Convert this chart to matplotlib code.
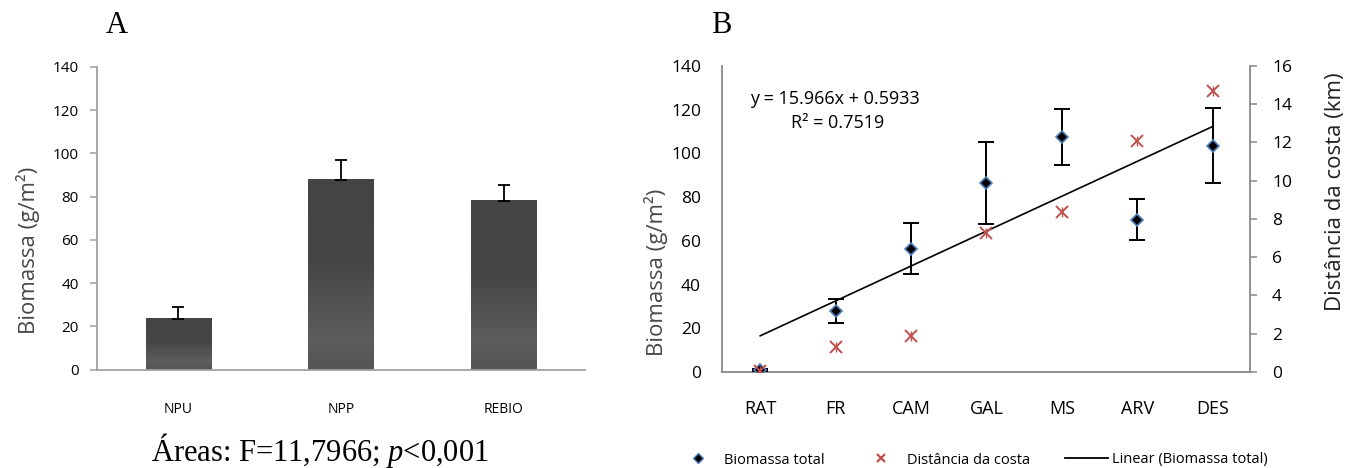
import numpy as np
import matplotlib
matplotlib.use('Agg')
import matplotlib.pyplot as plt
from matplotlib.lines import Line2D
from matplotlib.colors import LinearSegmentedColormap

plt.rcParams['font.family'] = ['Open Sans', 'DejaVu Sans']
plt.rcParams['mathtext.fontset'] = 'custom'
plt.rcParams['mathtext.it'] = 'Liberation Serif:italic'
plt.rcParams['mathtext.rm'] = 'Liberation Serif'

# ---- dados do painel A ----
areas = ['NPU', 'NPP', 'REBIO']
biomassa_area = [23.5, 87.8, 78.2]
erro_area = [5.3, 9.3, 7.4]

# ---- dados do painel B ----
locais = ['RAT', 'FR', 'CAM', 'GAL', 'MS', 'ARV', 'DES']
biomassa_total = [1.0, 28.0, 56.5, 86.5, 107.5, 69.6, 103.5]
erro_total = [0.6, 5.6, 11.6, 18.7, 13.0, 9.4, 17.1]
distancia_km = [0.05, 1.3, 1.9, 7.26, 8.36, 12.1, 14.7]
inclinacao, intercepto = 15.966, 0.5933

W, H = 1347, 468
fig = plt.figure(figsize=(W / 100, H / 100), dpi=100)

cinza_eixo = '#a0a0a0'

# ================= painel A =================
axA = fig.add_axes([96.7 / W, 1 - 369.5 / H, (585 - 96.7) / W, (369.5 - 67) / H])
xa = np.arange(len(areas))
barras = axA.bar(xa, biomassa_area, width=0.4, color='#4a4a4a', zorder=2)

# degradê das barras (estilo Excel)
cmap = LinearSegmentedColormap.from_list('barra', [(0, '#555555'), (0.15, '#5d5d5d'),
                                                   (0.35, '#525252'), (0.55, '#464646'),
                                                   (1, '#444444')])
grad = np.linspace(0, 1, 256).reshape(-1, 1)
for b in barras:
    axA.imshow(grad, extent=[b.get_x(), b.get_x() + b.get_width(), 0, b.get_height()],
               cmap=cmap, aspect='auto', origin='lower', zorder=2.1)

axA.errorbar(xa, biomassa_area, yerr=[np.zeros(len(areas)), erro_area], fmt='none',
             ecolor='black', elinewidth=1.3, capsize=4, capthick=1.3, zorder=3)

axA.set_xlim(-0.5, len(areas) - 0.5)
axA.set_ylim(0, 140)
axA.set_yticks(range(0, 141, 20))
axA.set_xticks(xa)
axA.set_xticklabels(areas, fontsize=10)
axA.tick_params(axis='x', length=0, pad=23.5)
axA.tick_params(axis='y', length=5, width=1.1, color=cinza_eixo, pad=8, labelsize=11)
for s in ['top', 'right']:
    axA.spines[s].set_visible(False)
for s in ['left', 'bottom']:
    axA.spines[s].set_color(cinza_eixo)
    axA.spines[s].set_linewidth(1.3)

fig.text(28 / W, 1 - 250 / H, 'Biomassa (g/m²)', rotation=90, ha='center', va='center',
         fontsize=16, color='#484848')
fig.text(116.5 / W, 1 - 33 / H, 'A', family='Liberation Serif', fontsize=22,
         ha='center', va='baseline')
fig.text(150.7 / W, 1 - 461 / H, 'Áreas: F=11,7966; $p$<0,001', family='Liberation Serif',
         fontsize=22, ha='left', va='baseline')

# ================= painel B =================
axB = fig.add_axes([722.5 / W, 1 - 372 / H, (1250.5 - 722.5) / W, (372 - 66) / H])
xb = np.arange(1, len(locais) + 1)

axB.errorbar(xb, biomassa_total, yerr=erro_total, fmt='none', ecolor='black',
             elinewidth=1.4, capsize=6, capthick=1.4, zorder=3)
axB.plot(xb, biomassa_total, linestyle='none', marker='D', markersize=6.3,
         markerfacecolor='black', markeredgecolor='#4f81bd', markeredgewidth=1.2, zorder=4)
axB.plot(xb, inclinacao * xb + intercepto, color='black', linewidth=1.2, zorder=2)

axB.text(749.6 / W, 1 - 98.5 / H, 'y = 15.966x + 0.5933', transform=fig.transFigure,
         fontsize=13, ha='left', va='center')
axB.text(838 / W, 1 - 123.5 / H, 'R² = 0.7519', transform=fig.transFigure,
         fontsize=13, ha='center', va='center')

axB.set_xlim(0.5, len(locais) + 0.5)
axB.set_ylim(0, 140)
axB.set_yticks(range(0, 141, 20))
axB.set_xticks(xb)
axB.set_xticklabels(locais, fontsize=13)
axB.tick_params(axis='x', length=0, pad=20)
axB.tick_params(axis='y', length=0, pad=15.5, labelsize=12.5)
for s in ['top', 'right']:
    axB.spines[s].set_visible(False)
for s in ['left', 'bottom']:
    axB.spines[s].set_color('#888888')
    axB.spines[s].set_linewidth(1.3)

axB2 = axB.twinx()
axB2.plot(xb, distancia_km, linestyle='none', marker='x', markersize=8,
          markeredgecolor='#c0504d', markeredgewidth=1.4, zorder=4)
axB2.plot(xb, distancia_km, linestyle='none', marker='|', markersize=7,
          markeredgecolor='#c0504d', markeredgewidth=1.0, zorder=4)
axB2.set_ylim(0, 16)
axB2.set_yticks(range(0, 17, 2))
axB2.tick_params(axis='y', length=5, width=1.1, color='#888888', pad=10.5, labelsize=12.5)
for s in ['top', 'left', 'bottom']:
    axB2.spines[s].set_visible(False)
axB2.spines['right'].set_color('#888888')
axB2.spines['right'].set_linewidth(1.3)

fig.text(656 / W, 1 - 272 / H, 'Biomassa (g/m²)', rotation=90, ha='center', va='center',
         fontsize=16, color='#484848')
fig.text(1336 / W, 1 - 192 / H, 'Distância da costa (km)', rotation=90, ha='center',
         va='center', fontsize=16, color='#222222')
fig.text(721 / W, 1 - 33 / H, 'B', family='Liberation Serif', fontsize=22,
         ha='center', va='baseline')

handles = [
    Line2D([], [], linestyle='none', marker='D', markersize=5, markerfacecolor='black',
           markeredgecolor='#4f81bd', markeredgewidth=1.0),
    Line2D([], [], linestyle='none', marker='x', markersize=6, markeredgecolor='#c0504d',
           markeredgewidth=1.6),
    Line2D([], [], color='black', linewidth=1.3),
]
fig.legend(handles, ['Biomassa total', 'Distância da costa', 'Linear (Biomassa total)'],
           loc='center left', bbox_to_anchor=(676.5 / W, 1 - 460 / H), ncol=3,
           frameon=False, fontsize=10.5, handlelength=2.95, handletextpad=0.3,
           columnspacing=2.4, borderpad=0, borderaxespad=0)

fig.savefig('out.png', dpi=100)
